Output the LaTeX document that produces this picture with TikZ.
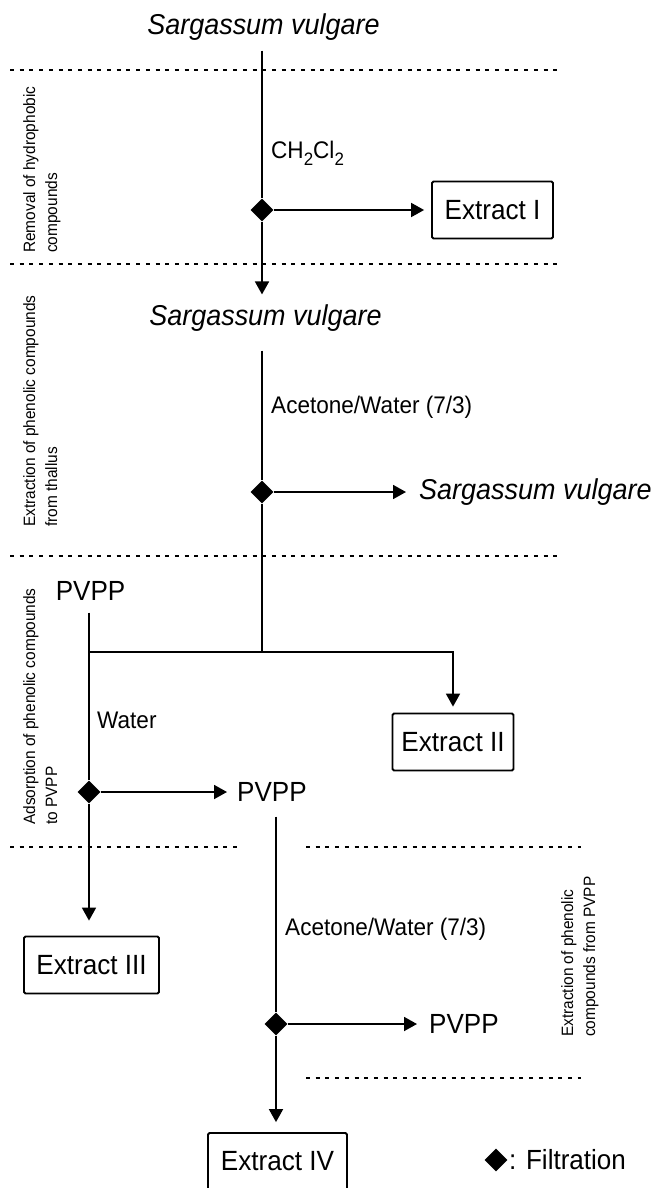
\documentclass[tikz,border=0pt]{standalone}
\usepackage{fontspec}
\setmainfont{Liberation Sans}[FakeStretch=0.94]
\usetikzlibrary{arrows.meta,shapes.geometric}
\newcommand{\chemsub}[1]{\raisebox{-0.3em}{\fontsize{18}{18}\selectfont #1}}
\begin{document}
\begin{tikzpicture}[x=1pt,y=-1pt,
  line/.style={line width=1.8pt},
  arr/.style={line width=1.8pt,-{Triangle[length=13pt,width=14pt]}},
  dots/.style={line width=2pt,dash pattern=on 4pt off 5.7pt},
  filt/.style={diamond,fill=black,inner sep=0pt,minimum width=23pt,minimum height=23pt},
  box/.style={draw,line width=1.8pt,rounded corners=1.5pt,minimum height=57pt,inner sep=0pt,font=\fontsize{27.8}{30}\selectfont},
  title/.style={inner sep=0pt,font=\fontsize{28.7}{32}\selectfont\itshape},
  big/.style={inner sep=0pt,font=\fontsize{27.7}{30}\selectfont},
  lab/.style={inner sep=0pt,anchor=west,font=\fontsize{24}{28}\selectfont},
  side/.style={inner sep=0pt,rotate=90,anchor=north west,align=left,font=\fontsize{16.4}{22}\selectfont}
]
\useasboundingbox (0,0) rectangle (651,1188);

% stage separators
\draw[dots] (10,70) -- (558,70);
\draw[dots] (10,264) -- (558,264);
\draw[dots] (10,556) -- (558,556);
\draw[dots] (10,847) -- (242,847);
\draw[dots] (306,847) -- (581,847);
\draw[dots] (306,1078) -- (581,1078);

% stage labels
\node[side] (r1) at (23,253) {Removal of hydrophobic\\compounds};
\node[side] (r2) at (23,527) {Extraction of phenolic compounds\\from thallus};
\node[side] (r3) at (23,825) {Adsorption of phenolic compounds\\to PVPP};
\node[side] (r4) at (561,1037) {Extraction of phenolic\\compounds from PVPP};

% nodes
\node[title] (sv1) at (263.5,27) {Sargassum vulgare};
\node[lab] (ch) at (271,153) {CH\chemsub{2}Cl\chemsub{2}};
\node[filt] (f1) at (262,210) {};
\node[box,minimum width=121pt] (e1) at (492.5,210) {Extract I};

\node[title] (sv2) at (265.5,318) {Sargassum vulgare};
\node[lab] (aw1) at (271,407) {Acetone/Water (7/3)};
\node[filt] (f2) at (262,492) {};
\node[title,anchor=west] (sv3) at (419,492) {Sargassum vulgare};
\coordinate (j1) at (262,652);

\node[big] (p1) at (90.5,591) {PVPP};
\coordinate (j2) at (89,652);
\node[box,minimum width=121pt] (e2) at (453,742) {Extract II};
\node[lab] (w) at (97,720) {Water};
\node[filt] (f3) at (89,792) {};
\node[big,anchor=west] (p2) at (237,792) {PVPP};

\node[box,minimum width=135pt] (e3) at (91.5,965) {Extract III};
\node[lab] (aw2) at (285,929) {Acetone/Water (7/3)};
\node[filt] (f4) at (276,1024) {};
\node[big,anchor=west] (p3) at (429,1024) {PVPP};
\node[box,minimum width=139pt] (e4) at (277.5,1161.5) {Extract IV};

\node[filt] (lg) at (496,1160) {};
\node[big,anchor=west] (lgt) at (509,1160) {: Filtration};

% connectors
\draw[line,shorten <=10pt] (sv1.south -| f1) -- (f1.north);
\draw[arr,shorten >=7pt] (f1.east) -- (e1.west);
\draw[arr,shorten >=10pt] (f1.south) -- (sv2.north -| f1);

\draw[line,shorten <=19pt] (sv2.south -| f2) -- (f2.north);
\draw[arr,shorten >=13pt] (f2.east) -- (sv3.west);
\draw[line] (f2.south) -- (j1);

\draw[line,shorten <=12pt] (p1.south -| f3) -- (f3.north);
\draw[arr,shorten >=6pt] (j2) -| (e2.north);
\draw[arr,shorten >=10pt] (f3.east) -- (p2.west);
\draw[arr,shorten >=15pt] (f3.south) -- (e3.north -| f3);

\draw[line,shorten <=15pt] (p2.south -| f4) -- (f4.north);
\draw[arr,shorten >=12pt] (f4.east) -- (p3.west);
\draw[arr,shorten >=10pt] (f4.south) -- (e4.north -| f4);
\end{tikzpicture}
\end{document}
